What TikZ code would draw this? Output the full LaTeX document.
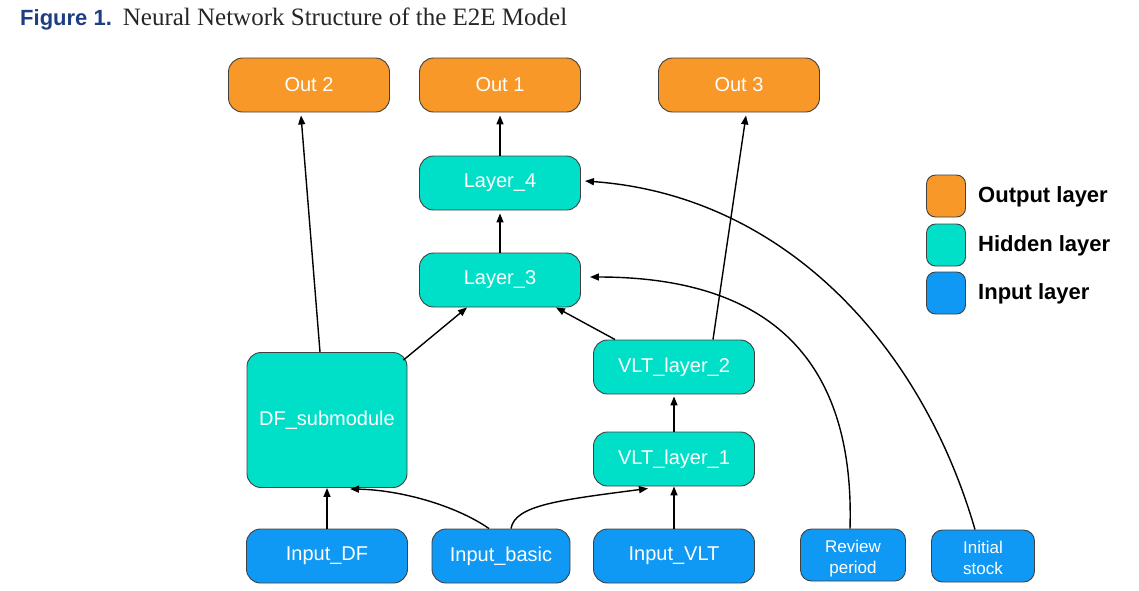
\documentclass[tikz,border=0pt]{standalone}
\usepackage{fontspec}
\setmainfont{Liberation Serif}
\setsansfont{Liberation Sans}
\usetikzlibrary{arrows.meta,calc}
\definecolor{outc}{RGB}{247,152,40}
\definecolor{hidc}{RGB}{0,224,200}
\definecolor{inc}{RGB}{16,152,245}
\definecolor{figblue}{RGB}{30,62,130}
\begin{document}
\begin{tikzpicture}[x=1pt,y=-1pt,
  box/.style={draw=black!75, line width=0.9pt, rounded corners=14pt, inner sep=0pt, text=white,
    font=\sffamily\fontsize{20}{24}\selectfont, minimum width=161pt, minimum height=54pt},
  outbox/.style={box, fill=outc},
  hidbox/.style={box, fill=hidc},
  inbox/.style={box, fill=inc},
  smallin/.style={box, fill=inc, minimum width=105pt, minimum height=52pt, rounded corners=11pt,
    align=center, font=\sffamily\fontsize{17}{21}\selectfont},
  legsq/.style={draw=black!75, line width=0.9pt, rounded corners=9pt, minimum width=39pt, minimum height=42pt, inner sep=0pt},
  legtxt/.style={anchor=west, inner sep=0pt, font=\sffamily\bfseries\fontsize{22}{26}\selectfont},
  conn/.style={line width=1.4pt, -{Triangle[length=9pt,width=7pt]}}
]
\useasboundingbox (0,0) rectangle (1139,590);

% title
\node[anchor=base west, inner sep=0pt] (title) at (20,25)
  {\sffamily\bfseries\color{figblue}\fontsize{22}{26}\selectfont Figure 1.\enspace
   \rmfamily\mdseries\color{black!85}\fontsize{25}{29}\selectfont Neural Network Structure of the E2E Model};

% outputs
\node[outbox] (out2) at (309,85) {Out 2};
\node[outbox] (out1) at (500,85) {Out 1};
\node[outbox] (out3) at (739,85) {Out 3};
% hidden
\node[hidbox] (l4) at (500,183) {Layer\_4};
\node[hidbox] (l3) at (500,280) {Layer\_3};
\node[hidbox, minimum height=135pt, minimum width=160pt] (df) at (327,420) {DF\_submodule};
\node[hidbox] (v2) at (674,367) {VLT\_layer\_2};
\node[hidbox] (v1) at (674,459) {VLT\_layer\_1};
% inputs
\node[inbox] (idf) at (327,556) {Input\_DF};
\node[inbox, minimum width=138pt] (ib) at (501,556) {Input\_basic};
\node[inbox] (ivlt) at (674,556) {Input\_VLT};
\node[smallin] (rp) at (853,555) {\raisebox{-4pt}[\height][\depth]{\begin{tabular}{@{}c@{}}Review\\period\end{tabular}}};
\node[smallin, minimum width=103pt] (is) at (983,556) {\raisebox{-4pt}[\height][\depth]{\begin{tabular}{@{}c@{}}Initial\\stock\end{tabular}}};

% legend
\node[legsq, fill=outc] (lo) at (946,196) {};
\node[legsq, fill=hidc] (lh) at (946,245) {};
\node[legsq, fill=inc] (li) at (946,293) {};
\node[legtxt] (lot) at (978,197) {Output layer};
\node[legtxt] (lht) at (978,246) {Hidden layer};
\node[legtxt] (lit) at (978,294) {Input layer};

% connectors
\draw[conn] (idf.north) -- (df.south);
\draw[conn] (ivlt.north) -- (v1.south);
\draw[conn] (v1.north) -- ([yshift=-2pt]v2.south);
\draw[conn] (l3.north) -- ([yshift=-3pt]l4.south);
\draw[conn] (l4.north) -- ([yshift=-3pt]out1.south);
\draw[conn] ([xshift=-7pt]df.north) -- ([xshift=-8pt,yshift=-3pt]out2.south);
\draw[conn] ([xshift=39pt]v2.north) -- ([xshift=7pt,yshift=-3pt]out3.south);
\draw[conn] ([xshift=-4pt,yshift=-8pt]df.north east) -- ([xshift=-33pt]l3.south);
\draw[conn] ([xshift=22pt]v2.north west) -- ([xshift=-25pt]l3.south east);
\draw[conn] ([xshift=-12pt]ib.north) .. controls (455,505) and (400,490) .. ([xshift=23pt,yshift=-1pt]df.south);
\draw[conn] ([xshift=10pt]ib.north) .. controls (515,505) and (560,500) .. ([xshift=-26pt,yshift=-2pt]v1.south);
\draw[conn] ([xshift=-3pt]rp.north) .. controls (855,360) and (770,277) .. ([xshift=9pt,yshift=3pt]l3.east);
\draw[conn] ([xshift=-8pt]is.north) .. controls (920,340) and (780,195) .. ([xshift=4pt,yshift=2pt]l4.east);
\end{tikzpicture}
\end{document}
